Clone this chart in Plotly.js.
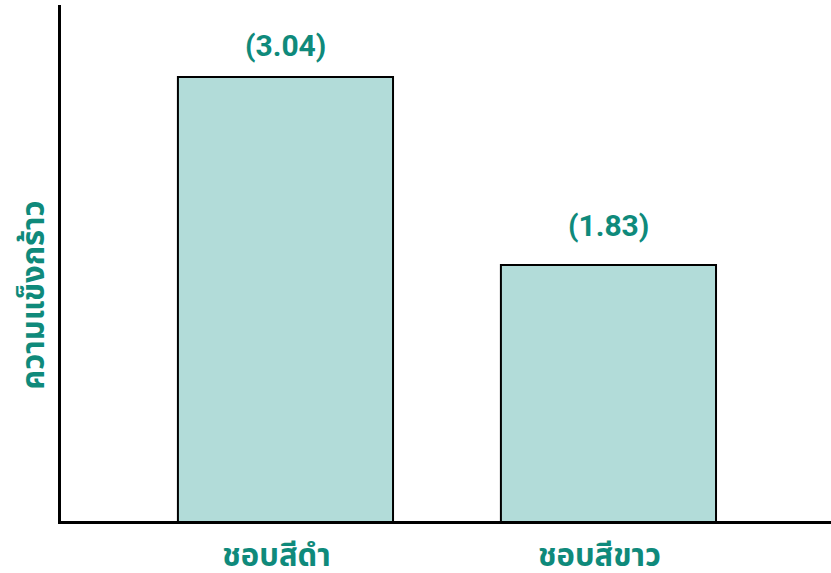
<!DOCTYPE html>
<html>
<head>
<meta charset="utf-8">
<script src="https://cdn.plot.ly/plotly-3.0.1.min.js"></script>
<style>html,body{margin:0;padding:0;background:#fff;}#chart{width:831px;height:573px;}</style>
</head>
<body>
<div id="chart"></div>
<script>
const categories = ["ชอบสีดำ", "ชอบสีขาว"];
const values = [3.04, 1.83];
const valueLabels = ["(3.04)", "(1.83)"];
const yTitle = "ความแข็งกร้าว";

const teal = "#0f8a7b";
const fontFam = "Roboto, 'Noto Sans', 'Noto Sans Thai', sans-serif";

const trace = {
  type: "bar",
  x: [0, 1],
  y: values,
  width: 0.666,
  marker: {color: "#b2dcd9", line: {color: "#000", width: 2}},
  hoverinfo: "none"
};

const labelShift = [12, 20];
const annotations = values.map((v, i) => ({
  x: i, y: v, xref: "x", yref: "y",
  text: "<b>" + valueLabels[i] + "</b>",
  showarrow: false, yanchor: "bottom", yshift: labelShift[i],
  font: {family: fontFam, size: 30, color: teal}
}));
annotations.push({
  xref: "paper", yref: "paper", x: -0.062, y: 0.438,
  text: "<b>" + yTitle + "</b>", textangle: -90, showarrow: false,
  font: {family: fontFam, size: 31, color: teal}
});

const layout = {
  width: 831, height: 573,
  margin: {l: 61, r: 0, t: 5, b: 52},
  paper_bgcolor: "#fff", plot_bgcolor: "#fff",
  showlegend: false,
  xaxis: {
    range: [-0.695, 1.689],
    tickvals: [0, 1], ticktext: categories.map(c => "<b>" + c + "</b>"),
    showline: true, linecolor: "#000", linewidth: 3,
    showgrid: false, zeroline: false, ticks: "",
    tickfont: {family: fontFam, size: 31, color: teal},
    ticklabelshift: -9, ticklabelstandoff: 5,
    fixedrange: true
  },
  yaxis: {
    range: [0.183, 3.503],
    showline: true, linecolor: "#000", linewidth: 3,
    showgrid: false, zeroline: false, showticklabels: false, ticks: "",
    fixedrange: true
  },
  annotations: annotations
};

Plotly.newPlot("chart", [trace], layout, {displayModeBar: false, staticPlot: true});
</script>
</body>
</html>
